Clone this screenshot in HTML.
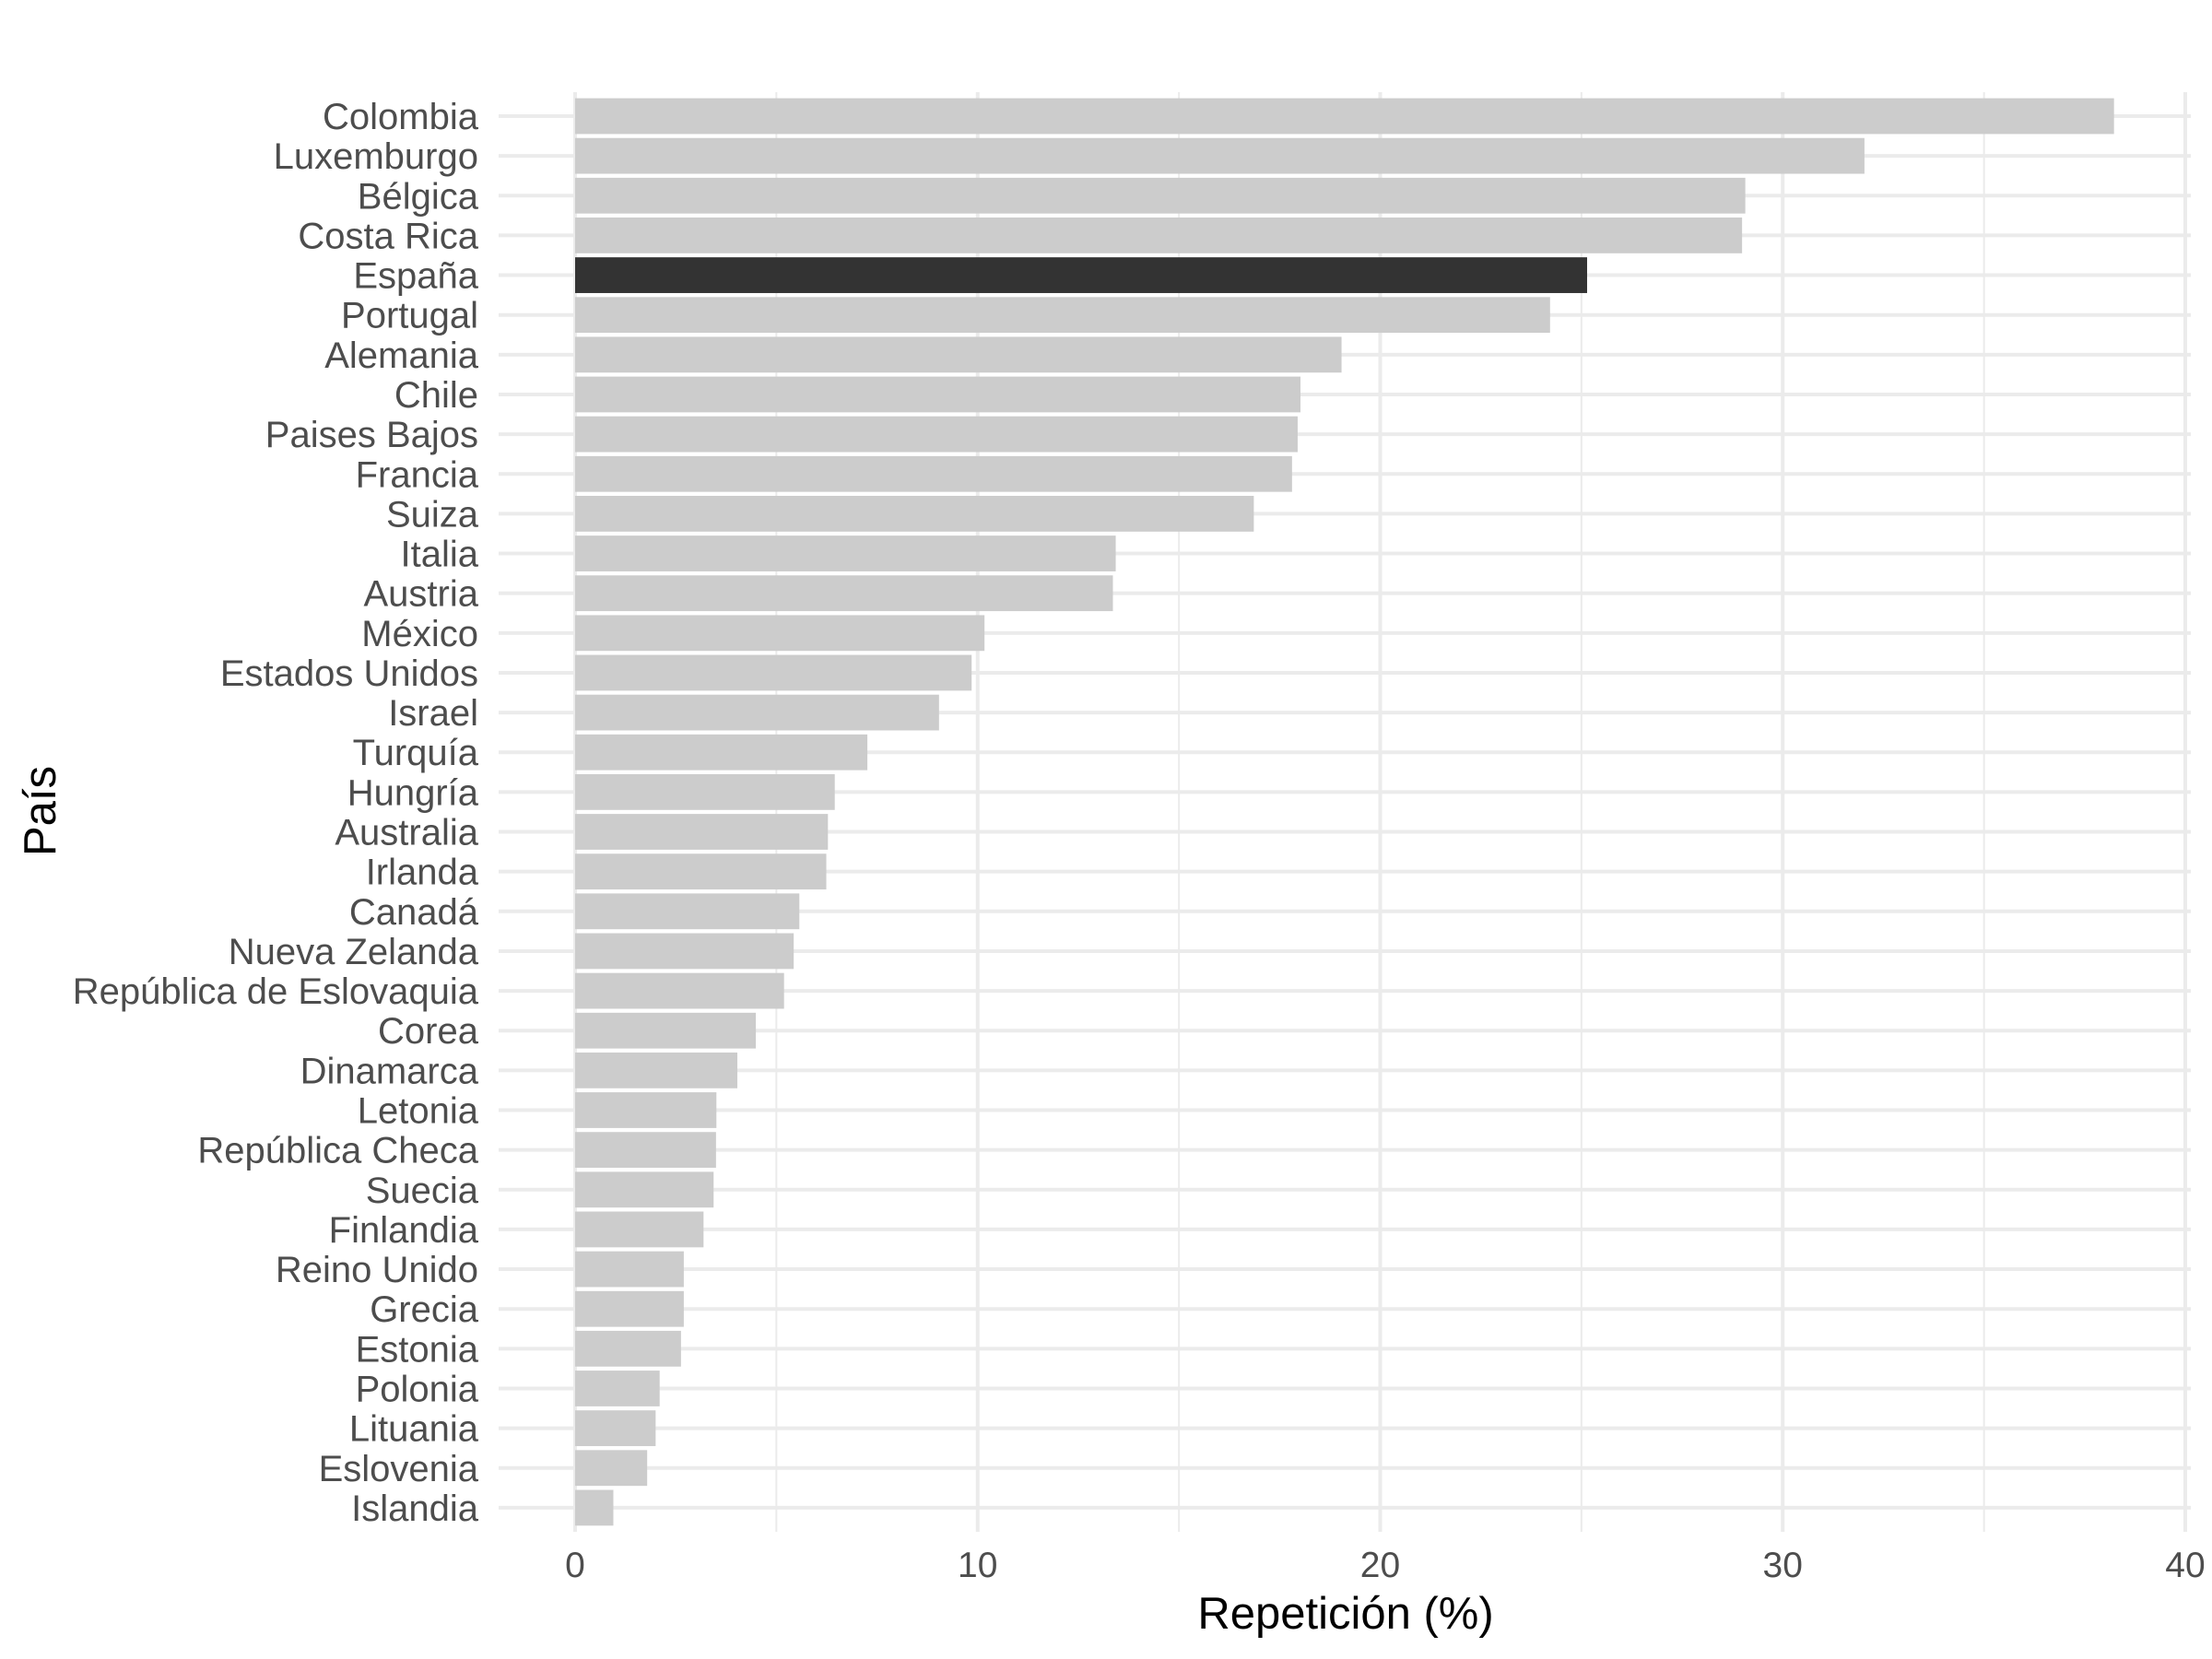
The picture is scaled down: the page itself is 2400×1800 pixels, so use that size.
<!DOCTYPE html>
<html><head><meta charset="utf-8"><style>html,body{margin:0;padding:0;background:#fff}svg{display:block}</style></head>
<body>
<svg id="c" width="2400" height="1800" xmlns="http://www.w3.org/2000/svg" font-family="Liberation Sans, sans-serif"></svg>
<script>
const data=[["Colombia",38.23],["Luxemburgo",32.03],["Bélgica",29.07],["Costa Rica",28.99],["España",25.14],["Portugal",24.22],["Alemania",19.04],["Chile",18.02],["Paises Bajos",17.95],["Francia",17.81],["Suiza",16.86],["Italia",13.43],["Austria",13.36],["México",10.17],["Estados Unidos",9.85],["Israel",9.04],["Turquía",7.26],["Hungría",6.45],["Australia",6.28],["Irlanda",6.24],["Canadá",5.57],["Nueva Zelanda",5.43],["República de Eslovaquia",5.19],["Corea",4.49],["Dinamarca",4.03],["Letonia",3.51],["República Checa",3.5],["Suecia",3.44],["Finlandia",3.19],["Reino Unido",2.7],["Grecia",2.7],["Estonia",2.63],["Polonia",2.1],["Lituania",2.0],["Eslovenia",1.79],["Islandia",0.95]];
const X=v=>624+43.675*v, Y=i=>126+43.14*i;
let s='';
for(let v=5;v<=35;v+=10) s+=`<line x1="${X(v)}" x2="${X(v)}" y1="100" y2="1662" stroke="#ebebeb" stroke-width="2"/>`;
for(let v=0;v<=40;v+=10) s+=`<line x1="${X(v)}" x2="${X(v)}" y1="100" y2="1662" stroke="#ebebeb" stroke-width="4"/>`;
data.forEach((d,i)=>{s+=`<line x1="541" x2="2377" y1="${Y(i)}" y2="${Y(i)}" stroke="#ebebeb" stroke-width="4"/>`;});
data.forEach((d,i)=>{
 s+=`<rect x="${X(0)}" y="${Y(i)-19.4}" width="${X(d[1])-X(0)}" height="38.8" fill="${d[0]=='España'?'#333333':'#cccccc'}"/>`;
 s+=`<text x="519" y="${Y(i)+14}" font-size="40" fill="#4d4d4d" text-anchor="end">${d[0]}</text>`;
});
for(let v=0;v<=40;v+=10) s+=`<text x="${X(v)}" y="1711" font-size="39" fill="#4d4d4d" text-anchor="middle">${v}</text>`;
s+=`<text x="1460" y="1767" font-size="49" fill="#000" text-anchor="middle">Repetición (%)</text>`;
s+=`<text transform="translate(60,880) rotate(-90)" font-size="49" fill="#000" text-anchor="middle">País</text>`;
document.getElementById('c').innerHTML=s;
</script>
</body></html>
